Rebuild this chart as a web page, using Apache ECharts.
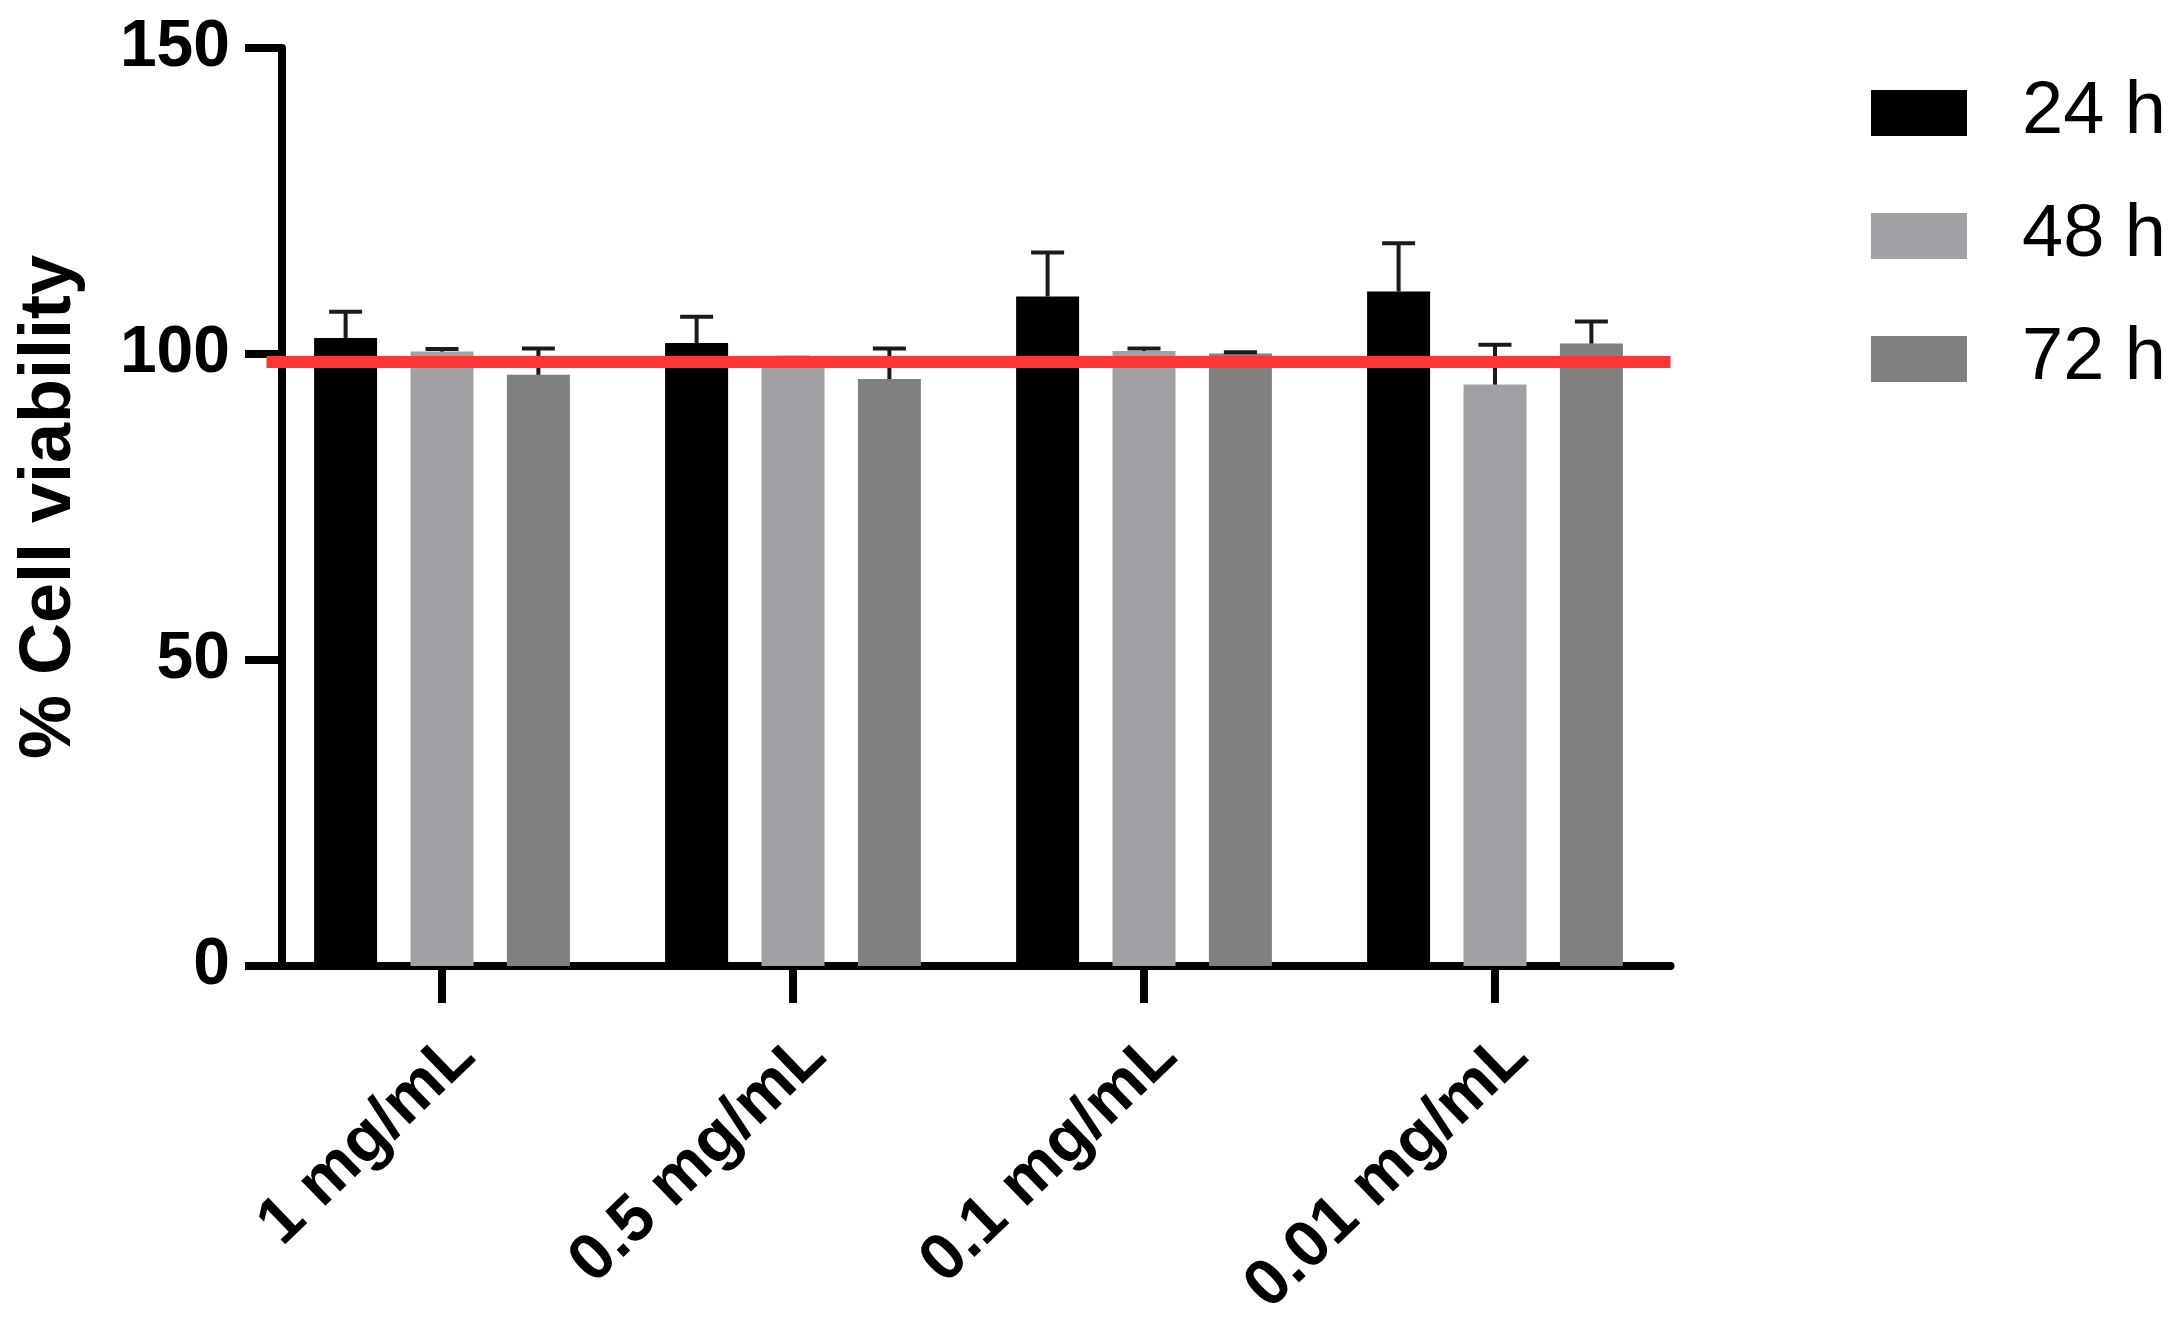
<!DOCTYPE html>
<html><head><meta charset="utf-8">
<script src="https://cdn.jsdelivr.net/npm/echarts@6/dist/echarts.min.js"></script>
<style>html,body{margin:0;padding:0;background:#fff}#c{width:2173px;height:1344px}</style>
</head><body><div id="c"></div>
<script>
// ---- data ----
const categories = ['1 mg/mL', '0.5 mg/mL', '0.1 mg/mL', '0.01 mg/mL'];
const seriesNames = ['24 h', '48 h', '72 h'];
const mean24 = [102.6, 101.8, 109.4, 110.2];
const err24  = [4.3, 4.3, 7.2, 7.9];
const mean48 = [100.4, 99.0, 100.5, 95.0];
const err48  = [0.4, 0.4, 0.4, 6.5];
const mean72 = [96.6, 95.9, 100.1, 101.7];
const err72  = [4.3, 5.0, 0.2, 3.6];
const yTicks = [0, 50, 100, 150];
const referenceValue = 98.8;

// ---- styling ----
const FONT = "'Liberation Sans', Arial, sans-serif";
const colors = ['#000000', '#a1a0a5', '#808080'];
const BAR_W = 63, BAR_GAP = 0.53, CAP_HALF = 16.5;
const AXIS_W = 8;

const means = [mean24, mean48, mean72];
const errs = [err24, err48, err72];

const chart = echarts.init(document.getElementById('c'), null, {renderer: 'canvas'});

const barSeries = seriesNames.map((n, k) => ({
  type: 'bar', name: n, data: means[k], barWidth: BAR_W, barGap: (BAR_GAP * 100) + '%',
  itemStyle: {color: colors[k]}, z: 2, silent: true
}));

const errSeries = seriesNames.map((n, k) => ({
  type: 'custom', name: n + ' err', z: 3, silent: true,
  data: means[k].map((m, i) => [i, m, m + errs[k][i]]),
  renderItem(params, api) {
    const i = api.value(0);
    const pTop = api.coord([i, api.value(2)]);
    const pBase = api.coord([i, api.value(1)]);
    const step = BAR_W * (1 + BAR_GAP);
    const x = pTop[0] + (k - 1) * step;
    const st = {stroke: '#1a1a1a', lineWidth: 4};
    return {type: 'group', children: [
      {type: 'line', shape: {x1: x, y1: pBase[1], x2: x, y2: pTop[1]}, style: st},
      {type: 'line', shape: {x1: x - CAP_HALF, y1: pTop[1], x2: x + CAP_HALF, y2: pTop[1]}, style: st}
    ]};
  }
}));

errSeries[2].markLine = {
  silent: true, symbol: 'none', animation: false,
  label: {show: false},
  lineStyle: {color: '#ff3535', width: 12, type: 'solid'},
  data: [{yAxis: referenceValue}]
};
errSeries[2].z = 4;

chart.setOption({
  animation: false,
  backgroundColor: '#ffffff',
  grid: {left: 266.5, right: 502.5, top: 48, bottom: 378, containLabel: false},
  legend: {
    data: seriesNames, orient: 'vertical', left: 1866, top: 71,
    icon: 'rect', itemWidth: 96, itemHeight: 46, itemGap: 49,
    selectedMode: false,
    textStyle: {fontFamily: FONT, fontSize: 74, color: '#000', lineHeight: 46, padding: [0, 0, 0, 50]}
  },
  xAxis: {
    type: 'category', data: categories,
    axisLine: {show: true, lineStyle: {color: '#000', width: AXIS_W}},
    axisTick: {show: true, alignWithLabel: true, length: 37, lineStyle: {color: '#000', width: AXIS_W}},
    axisLabel: {rotate: 44, margin: 56, verticalAlign: 'top', align: 'right',
      fontFamily: FONT, fontWeight: 'bold', fontSize: 66, color: '#000'},
    splitLine: {show: false}
  },
  yAxis: {
    type: 'value', min: yTicks[0], max: yTicks[yTicks.length - 1], interval: yTicks[1] - yTicks[0],
    offset: -15.5,
    name: '% Cell viability', nameLocation: 'middle', nameGap: 196,
    nameTextStyle: {fontFamily: FONT, fontWeight: 'bold', fontSize: 72, color: '#000'},
    axisLine: {show: true, lineStyle: {color: '#000', width: AXIS_W}},
    axisTick: {show: true, length: 37, lineStyle: {color: '#000', width: AXIS_W}},
    axisLabel: {margin: 52, fontFamily: FONT, fontWeight: 'bold', fontSize: 66, color: '#000'},
    splitLine: {show: false}
  },
  series: [...barSeries, ...errSeries]
});
</script></body></html>
